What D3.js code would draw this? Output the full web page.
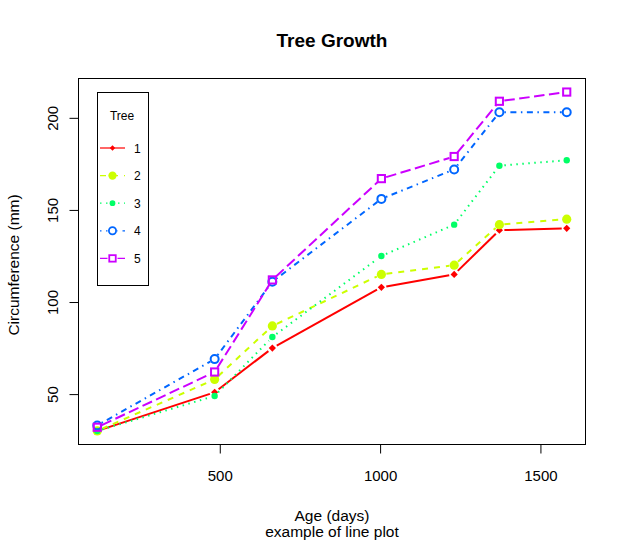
<!DOCTYPE html>
<html><head><meta charset="utf-8">
<script src="https://cdn.jsdelivr.net/npm/d3@7"></script>
<style>body{margin:0;background:#fff}text{font-family:"Liberation Sans",Arial,sans-serif}</style>
</head><body><svg id="c" width="626" height="543"></svg>
<script>
const ages = [118, 484, 664, 1004, 1231, 1372, 1582];
const treeLabels = ["1","2","3","4","5"];
const tree1 = [30, 51, 75, 108, 115, 139, 140];
const tree2 = [30, 58, 87, 115, 120, 142, 145];
const tree3 = [30, 49, 81, 125, 142, 174, 177];
const tree4 = [33, 69, 111, 156, 172, 203, 203];
const tree5 = [32, 62, 112, 167, 179, 209, 214];
const xTicks = [500, 1000, 1500];
const yTicks = [50, 100, 150, 200];
const colors = ["#FF0000", "#CCFF00", "#00FF66", "#0066FF", "#CC00FF"];
const dashes = [null, "6,6", "1.5,4.5", "1.5,4.5,6,4.5", "10.5,4.5"];
const shapes = ["diamond", "bigdot", "dot", "circle", "square"];
const series = [tree1, tree2, tree3, tree4, tree5];

const FONT = '"Liberation Sans",Arial,sans-serif';
const svg = d3.select("#c");
const L = 78.5, R = 585.5, T = 78.5, B = 444.5;
const xmin = d3.min(ages), xmax = d3.max(ages);
const ymin = d3.min(series.flat()), ymax = d3.max(series.flat());
const xr = (xmax - xmin) * 0.04, yr = (ymax - ymin) * 0.04;
const x = d3.scaleLinear().domain([xmin - xr, xmax + xr]).range([L, R]);
const y = d3.scaleLinear().domain([ymin - yr, ymax + yr]).range([B, T]);

svg.append("text").attr("x", 332).attr("y", 47).attr("text-anchor", "middle")
  .attr("font-weight", "bold").style("font-size", "19px").text("Tree Growth");

svg.append("rect").attr("x", L).attr("y", T).attr("width", R - L).attr("height", B - T)
  .attr("fill", "none").attr("stroke", "#000").attr("stroke-width", 1);

const xa = svg.append("g").attr("transform", `translate(0,${B})`)
  .call(d3.axisBottom(x).tickValues(xTicks).tickSize(9).tickSizeOuter(0).tickFormat(d3.format("d")));
xa.attr("font-size", null).attr("font-family", null);
xa.select(".domain").attr("d", `M${x(xTicks[0])},0H${x(xTicks[xTicks.length-1])}`);
xa.selectAll(".tick text").style("font-size", "15px").style("font-family", FONT).attr("y", 36).attr("dy", null);

const ya = svg.append("g").attr("transform", `translate(${L},0)`)
  .call(d3.axisLeft(y).tickValues(yTicks).tickSize(9).tickSizeOuter(0));
ya.attr("font-size", null).attr("font-family", null);
ya.select(".domain").attr("d", `M0,${y(yTicks[0])}V${y(yTicks[yTicks.length-1])}`);
ya.selectAll(".tick text").style("font-size", "15px").style("font-family", FONT)
  .attr("text-anchor", "middle").attr("x", 0).attr("y", 0).attr("dy", null)
  .attr("transform", "translate(-21,0) rotate(-90)");

svg.append("text").attr("x", 332).attr("y", 521).attr("text-anchor", "middle").style("font-size", "15.5px").text("Age (days)");
svg.append("text").attr("x", 332).attr("y", 537).attr("text-anchor", "middle").style("font-size", "15.5px").text("example of line plot");
svg.append("text").attr("transform", "translate(19,265) rotate(-90)").attr("text-anchor", "middle").style("font-size", "15.5px").text("Circumference (mm)");

function marker(g, shape, cx, cy, col, s) {
  s = s || 1;
  if (shape === "diamond") { const d = 3.6 * s; g.append("path").attr("d", `M${cx},${cy-d}L${cx+d},${cy}L${cx},${cy+d}L${cx-d},${cy}Z`).attr("fill", col); }
  else if (shape === "bigdot") g.append("circle").attr("cx", cx).attr("cy", cy).attr("r", 4.6 * s).attr("fill", col);
  else if (shape === "dot") g.append("circle").attr("cx", cx).attr("cy", cy).attr("r", 3.2 * s).attr("fill", col);
  else if (shape === "circle") g.append("circle").attr("cx", cx).attr("cy", cy).attr("r", 4 * s).attr("fill", "none").attr("stroke", col).attr("stroke-width", 2 * s);
  else { const d = 3.6 * s; g.append("rect").attr("x", cx - d).attr("y", cy - d).attr("width", 2 * d).attr("height", 2 * d).attr("fill", "none").attr("stroke", col).attr("stroke-width", 2 * s); }
}

const gap = 5;
series.forEach((vals, i) => {
  const g = svg.append("g");
  const pts = ages.map((a, j) => [x(a), y(vals[j])]);
  for (let j = 0; j < pts.length - 1; j++) {
    const [x0, y0] = pts[j], [x1, y1] = pts[j + 1];
    const dx = x1 - x0, dy = y1 - y0, len = Math.hypot(dx, dy);
    if (len <= 2 * gap) continue;
    const ux = dx / len, uy = dy / len;
    g.append("line").attr("x1", x0 + ux * gap).attr("y1", y0 + uy * gap)
      .attr("x2", x1 - ux * gap).attr("y2", y1 - uy * gap)
      .attr("stroke", colors[i]).attr("stroke-width", 2)
      .attr("stroke-dasharray", dashes[i]);
  }
  pts.forEach(p => marker(g, shapes[i], p[0], p[1], colors[i]));
});

// legend
const lg = svg.append("g");
lg.append("rect").attr("x", 97.5).attr("y", 92.5).attr("width", 51).attr("height", 193)
  .attr("fill", "#fff").attr("stroke", "#000").attr("stroke-width", 1);
lg.append("text").attr("x", 122).attr("y", 120).attr("text-anchor", "middle").style("font-size", "12px").text("Tree");
treeLabels.forEach((lab, i) => {
  const yy = 148 + i * 27.6;
  lg.append("line").attr("x1", 100).attr("x2", 125).attr("y1", yy).attr("y2", yy)
    .attr("stroke", colors[i]).attr("stroke-width", 1.2).attr("stroke-dasharray", dashes[i]);
  const mg = lg.append("g");
  if (shapes[i] === "circle" || shapes[i] === "square") mg.append("rect").attr("x", 107.5).attr("y", yy-4).attr("width", 10).attr("height", 8).attr("fill", "#fff");
  marker(mg, shapes[i], 112.5, yy, colors[i], shapes[i] === "diamond" ? 0.75 : 0.9);
  lg.append("text").attr("x", 134).attr("y", yy + 4.5).style("font-size", "12px").text(lab);
});
</script></body></html>
